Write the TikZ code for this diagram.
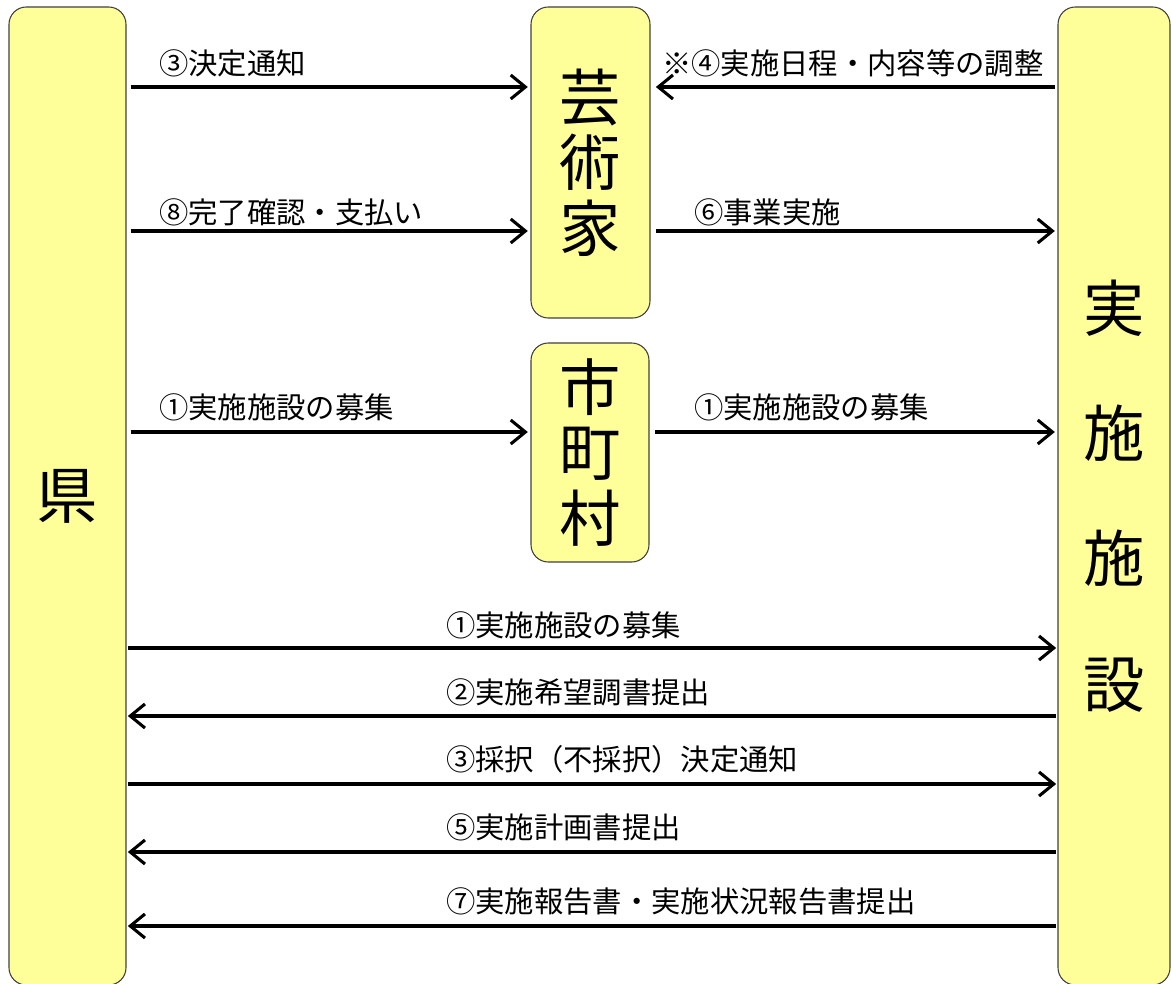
\documentclass[tikz,border=0pt]{standalone}
\usepackage{fontspec}
\setmainfont{Noto Sans CJK JP}
\usetikzlibrary{arrows.meta}
\definecolor{boxfill}{RGB}{255,255,153}
\definecolor{boxline}{RGB}{64,64,64}
\begin{document}
\begin{tikzpicture}[x=0.75pt,y=-0.75pt,
  box/.style={draw=boxline, line width=0.8pt, fill=boxfill, rounded corners=13pt,
    inner sep=0pt, align=center, font=\fontsize{46}{49}\selectfont},
  lbl/.style={anchor=west, inner sep=0pt, font=\fontsize{22}{24}\selectfont},
  arr/.style={line width=2.3pt, -{Straight Barb[length=11pt,width=18pt,line width=2.3pt]}}
]
\useasboundingbox (0,0) rectangle (1171,984);
% boxes
\node[box, minimum width=87.75pt, minimum height=733.5pt] (ken) at (67.5,496) {県};
\node[box, minimum width=89.25pt, minimum height=233.25pt] (gei) at (590.5,162.5) {芸\\術\\家};
\node[box, minimum width=88.5pt, minimum height=164.25pt] (shi) at (590,452.5) {市\\町\\村};
\node[box, minimum width=84pt, minimum height=733.5pt, font=\fontsize{46}{94}\selectfont] (jis) at (1114,496) {実\\施\\施\\設};
% coordinates for arrow rows
\coordinate (r1) at (0,87);
\coordinate (r2) at (0,231);
\coordinate (r3) at (0,432);
\coordinate (r4) at (0,648);
\coordinate (r5) at (0,716);
\coordinate (r6) at (0,784);
\coordinate (r7) at (0,852);
\coordinate (r8) at (0,926);
% upper arrows
\draw[arr, shorten <=3pt, shorten >=2pt] (ken.east |- r1) -- (gei.west |- r1);
\draw[arr, shorten <=2pt, shorten >=4pt] (jis.west |- r1) -- (gei.east |- r1);
\draw[arr, shorten <=3pt, shorten >=2pt] (ken.east |- r2) -- (gei.west |- r2);
\draw[arr, shorten <=4pt, shorten >=2pt] (gei.east |- r2) -- (jis.west |- r2);
\draw[arr, shorten <=3pt, shorten >=2pt] (ken.east |- r3) -- (shi.west |- r3);
\draw[arr, shorten <=4pt, shorten >=2pt] (shi.east |- r3) -- (jis.west |- r3);
% lower arrows
\draw[arr, shorten <=1pt, shorten >=1pt] (ken.east |- r4) -- (jis.west |- r4);
\draw[arr, shorten <=1pt, shorten >=1pt] (jis.west |- r5) -- (ken.east |- r5);
\draw[arr, shorten <=1pt, shorten >=1pt] (ken.east |- r6) -- (jis.west |- r6);
\draw[arr, shorten <=1pt, shorten >=1pt] (jis.west |- r7) -- (ken.east |- r7);
\draw[arr, shorten <=1pt, shorten >=1pt] (jis.west |- r8) -- (ken.east |- r8);
% labels
\node[lbl] (l1) at (159,63) {③決定通知};
\node[lbl] (l2) at (662,63) {※④実施日程・内容等の調整};
\node[lbl] (l3) at (159,212) {⑧完了確認・支払い};
\node[lbl] (l4) at (694,212) {⑥事業実施};
\node[lbl] (l5) at (159,407) {①実施施設の募集};
\node[lbl] (l6) at (694,407) {①実施施設の募集};
\node[lbl] (l7) at (446,625) {①実施施設の募集};
\node[lbl] (l8) at (446,692) {②実施希望調書提出};
\node[lbl] (l9) at (446,759) {③採択（不採択）決定通知};
\node[lbl] (l10) at (446,827) {⑤実施計画書提出};
\node[lbl] (l11) at (446,901) {⑦実施報告書・実施状況報告書提出};
\end{tikzpicture}
\end{document}
